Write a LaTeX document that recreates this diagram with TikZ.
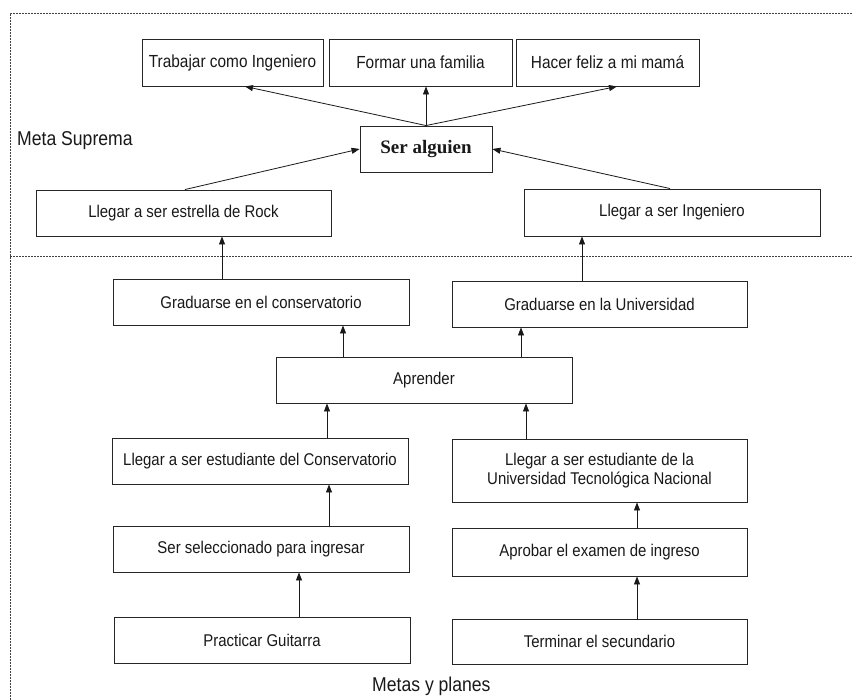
\documentclass[tikz,border=0pt]{standalone}
\usepackage{fontspec}
\setmainfont[FakeStretch=0.88]{Liberation Sans}
\newfontfamily\serfont{Liberation Serif}
\usetikzlibrary{arrows.meta}
\begin{document}
\begin{tikzpicture}[x=1pt,y=-1pt,
  box/.style={draw=black!85, line width=0.9pt, inner sep=0pt, align=center,
    text=black!90, font=\fontsize{17}{19}\selectfont},
  topbox/.style={box, font=\fontsize{17.5}{20}\selectfont},
  arr/.style={-{Triangle[length=8pt,width=6pt]}, line width=0.8pt, draw=black!90},
  frame/.style={draw=black!75, line width=0.8pt, dash pattern=on 2pt off 1pt},
  lbl/.style={inner sep=0pt, text=black!90, font=\fontsize{20}{22}\selectfont}]
\useasboundingbox (0,0) rectangle (853,700);
\fill[white] (0,0) rectangle (853,700);
% frame
\draw[frame] (10,700) -- (10,13) -- (853,13);
\draw[frame] (10,256) -- (853,256);
% labels
\node[lbl, anchor=base west] (ms) at (17,146) {Meta Suprema};
\node[lbl, anchor=base west] (mp) at (372,691) {Metas y planes};
% top boxes
\node[topbox, minimum width=181pt, minimum height=47pt] (trab) at (232.5,62.5) {Trabajar como Ingeniero};
\node[topbox, minimum width=183pt, minimum height=47pt] (form) at (420.5,62.5) {Formar una familia};
\node[topbox, minimum width=183pt, minimum height=47pt] (hacer) at (607.5,62.5) {Hacer feliz a mi mamá};
\node[box, minimum width=132pt, minimum height=46pt, font=\serfont\bfseries\fontsize{19}{21}\selectfont] (sa) at (426,149) {Ser alguien};
\node[box, minimum width=295pt, minimum height=46pt] (rock) at (183.5,213) {Llegar a ser estrella de Rock};
\node[box, minimum width=296pt, minimum height=47pt] (ing) at (672,212.5) {Llegar a ser Ingeniero};
% lower boxes
\node[box, minimum width=296pt, minimum height=46pt] (gcons) at (261,302) {Graduarse en el conservatorio};
\node[box, minimum width=295pt, minimum height=46pt] (guniv) at (599.5,304) {Graduarse en la Universidad};
\node[box, minimum width=296pt, minimum height=46pt] (apr) at (424,380) {Aprender};
\node[box, minimum width=296pt, minimum height=46pt] (econs) at (260,461) {Llegar a ser estudiante del Conservatorio};
\node[box, minimum width=295pt, minimum height=63pt] (utn) at (599.5,470.5) {Llegar a ser estudiante de la\\Universidad Tecnológica Nacional};
\node[box, minimum width=296pt, minimum height=46pt] (sersel) at (261,549) {Ser seleccionado para ingresar};
\node[box, minimum width=295pt, minimum height=48pt] (aprob) at (599.5,552) {Aprobar el examen de ingreso};
\node[box, minimum width=296pt, minimum height=46pt] (pract) at (262,640) {Practicar Guitarra};
\node[box, minimum width=295pt, minimum height=45pt] (term) at (599.5,641.5) {Terminar el secundario};
% x positions of connectors
\coordinate (x245) at (245,0);
\coordinate (x617) at (617,0);
\coordinate (x185) at (185,0);
\coordinate (x670) at (670,0);
\coordinate (x222) at (222,0);
\coordinate (x582) at (582,0);
\coordinate (x343) at (343,0);
\coordinate (x521) at (521,0);
\coordinate (x327) at (327,0);
\coordinate (x526) at (526,0);
\coordinate (x329) at (329,0);
\coordinate (x637) at (637,0);
\coordinate (x299) at (299,0);
% connectors
\draw[arr] (sa.north) -- (trab.south -| x245);
\draw[arr] (sa.north) -- (sa.north |- form.south);
\draw[arr] (sa.north) -- (hacer.south -| x617);
\draw[arr] (rock.north -| x185) -- (sa.west);
\draw[arr] (ing.north -| x670) -- (sa.east);
\draw[arr] (gcons.north -| x222) -- (rock.south -| x222);
\draw[arr] (guniv.north -| x582) -- (ing.south -| x582);
\draw[arr] (apr.north -| x343) -- (gcons.south -| x343);
\draw[arr] (apr.north -| x521) -- (guniv.south -| x521);
\draw[arr] (econs.north -| x327) -- (apr.south -| x327);
\draw[arr] (utn.north -| x526) -- (apr.south -| x526);
\draw[arr] (sersel.north -| x329) -- (econs.south -| x329);
\draw[arr] (aprob.north -| x637) -- (utn.south -| x637);
\draw[arr] (pract.north -| x299) -- (sersel.south -| x299);
\draw[arr] (term.north -| x637) -- (aprob.south -| x637);
\end{tikzpicture}
\end{document}
